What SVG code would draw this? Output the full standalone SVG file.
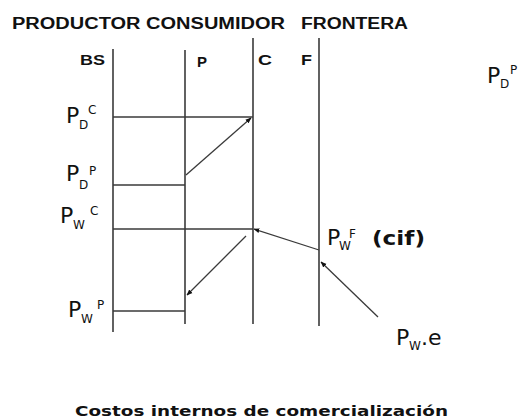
<svg xmlns="http://www.w3.org/2000/svg" width="524" height="420" viewBox="0 0 524 420">
<style>
.ax{stroke:#3a3a3a;stroke-width:1.6;fill:none}
.cn{stroke:#3a3a3a;stroke-width:1.3;fill:none;marker-end:url(#ah)}
.t{font-family:"Liberation Sans",Arial,sans-serif;font-weight:bold;fill:#111}
.m{font-family:"DejaVu Sans",Verdana,sans-serif;fill:#111}
.big{font-size:22px}
.sm{font-size:12px}
</style>
<defs>
<marker id="ah" viewBox="0 0 10 10" refX="9" refY="5" markerWidth="6" markerHeight="6" orient="auto" markerUnits="userSpaceOnUse">
<path d="M0,1 L10,5 L0,9 z" fill="#111"/>
</marker>
</defs>
<rect width="524" height="420" fill="#fff"/>
<g id="title">
<text class="t" x="12" y="29" font-size="16" textLength="273" lengthAdjust="spacingAndGlyphs">PRODUCTOR CONSUMIDOR</text>
<text class="t" x="301" y="29" font-size="16" textLength="107" lengthAdjust="spacingAndGlyphs">FRONTERA</text>
</g>
<g id="axes">
<line id="axis-BS" class="ax" x1="113" y1="49" x2="113" y2="332"/>
<line id="axis-P" class="ax" x1="185" y1="50" x2="185" y2="324"/>
<line id="axis-C" class="ax" x1="253" y1="38" x2="253" y2="324"/>
<line id="axis-F" class="ax" x1="319" y1="38" x2="319" y2="326"/>
<text class="t" x="80" y="65" font-size="15" textLength="25" lengthAdjust="spacingAndGlyphs">BS</text>
<text class="t" x="197" y="67" font-size="15" textLength="10" lengthAdjust="spacingAndGlyphs">P</text>
<text class="t" x="258" y="65" font-size="15" textLength="14" lengthAdjust="spacingAndGlyphs">C</text>
<text class="t" x="301" y="65" font-size="15" textLength="11" lengthAdjust="spacingAndGlyphs">F</text>
</g>
<g id="levels">
<line class="ax" x1="113" y1="117" x2="253" y2="117"/>
<line class="ax" x1="113" y1="185" x2="185" y2="185"/>
<line class="ax" x1="113" y1="229" x2="253" y2="229"/>
<line class="ax" x1="113" y1="311" x2="185" y2="311"/>
</g>
<g id="connectors">
<line class="cn" x1="186" y1="175" x2="251" y2="118"/>
<line class="cn" x1="246" y1="236" x2="187" y2="295"/>
<line class="cn" x1="319" y1="250" x2="254" y2="229"/>
<line class="cn" x1="378" y1="317" x2="321" y2="262"/>
</g>
<g id="label-PDC">
<text class="m big" x="66" y="123">P</text>
<text class="m sm" x="79" y="129">D</text>
<text class="m sm" x="88" y="114">C</text>
</g>
<g id="label-PDP">
<text class="m big" x="66" y="181">P</text>
<text class="m sm" x="79" y="189">D</text>
<text class="m sm" x="89" y="175">P</text>
</g>
<g id="label-PWC">
<text class="m big" x="60" y="223">P</text>
<text class="m sm" x="73" y="229">W</text>
<text class="m sm" x="90" y="215">C</text>
</g>
<g id="label-PWP">
<text class="m big" x="68" y="317">P</text>
<text class="m sm" x="81" y="323">W</text>
<text class="m sm" x="97" y="309">P</text>
</g>
<g id="label-PWF">
<text class="m big" x="327" y="245">P</text>
<text class="m sm" x="339" y="250">W</text>
<text class="m sm" x="349" y="238">F</text>
<text class="m" x="372" y="245" font-size="20" font-weight="bold" textLength="53" lengthAdjust="spacingAndGlyphs">(cif)</text>
</g>
<g id="label-PWe">
<text class="m big" x="396" y="345">P</text>
<text class="m sm" x="409" y="350">W</text>
<text class="m big" x="421" y="345">.e</text>
</g>
<g id="label-PDP-right">
<text class="m big" x="487" y="83">P</text>
<text class="m sm" x="500" y="88">D</text>
<text class="m sm" x="510" y="74">P</text>
</g>
<g id="footer">
<text class="m" x="75" y="416" font-size="14" font-weight="bold" textLength="373" lengthAdjust="spacingAndGlyphs">Costos internos de comercialización</text>
</g>
</svg>
